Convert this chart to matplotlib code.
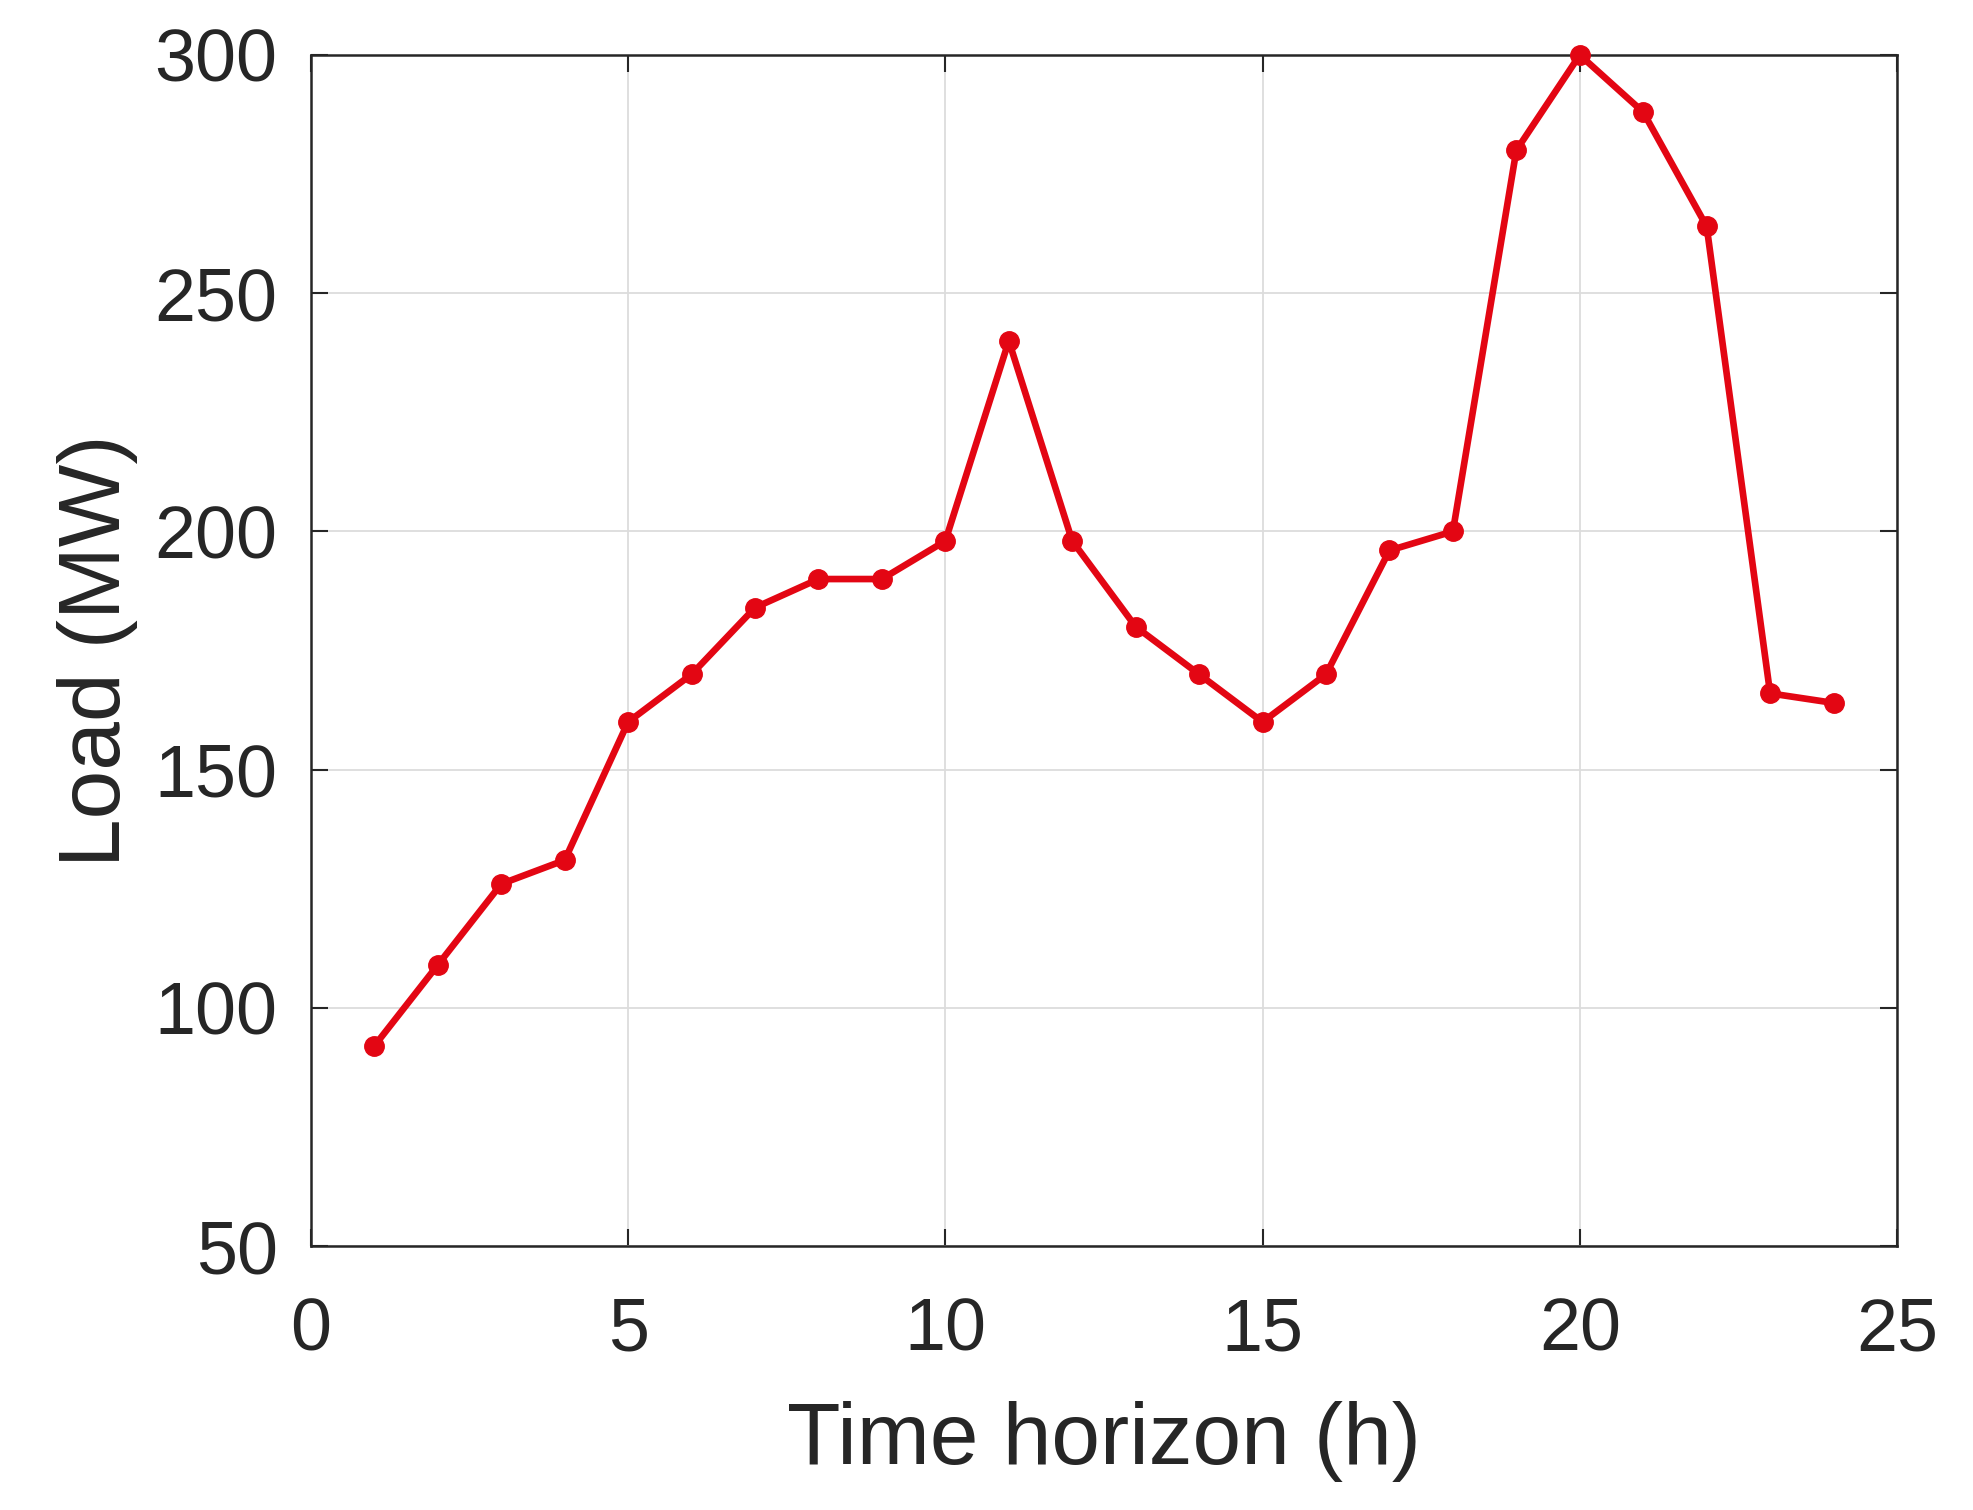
import numpy as np
import matplotlib
matplotlib.use('Agg')
import matplotlib.pyplot as plt

plt.rcParams['font.family'] = ['Liberation Sans', 'DejaVu Sans']

hours = np.arange(1, 25)
load_mw = [92, 109, 126, 131, 160, 170, 184, 190, 190, 198, 240, 198,
           180, 170, 160, 170, 196, 200, 280, 300, 288, 264, 166, 164]

x_ticks = [0, 5, 10, 15, 20, 25]
y_ticks = [50, 100, 150, 200, 250, 300]

fig = plt.figure(figsize=(19.74, 15.10), dpi=100)
ax = fig.add_axes([0.1575, 0.1748, 0.8035, 0.7888])

ax.plot(hours, load_mw, '-o', color='#e30613', linewidth=4.8,
        markersize=14, clip_on=False, zorder=3)

ax.set_xlim(0, 25)
ax.set_ylim(50, 300)
ax.set_xticks(x_ticks)
ax.set_yticks(y_ticks)
ax.grid(True, color='#dcdcdc', linewidth=1.3)
ax.set_axisbelow(True)
ax.tick_params(direction='in', top=True, right=True, length=12, width=1.5,
               labelsize=53, colors='#262626')
ax.tick_params(axis='x', pad=36)
ax.tick_params(axis='y', pad=24)
for s in ax.spines.values():
    s.set_linewidth(1.8)
    s.set_color('#262626')

ax.set_xlabel('Time horizon (h)', fontsize=63, color='#262626', labelpad=26)
ax.set_ylabel('Load (MW)', fontsize=63, color='#262626', labelpad=12)

fig.savefig('out.png', dpi=100)
